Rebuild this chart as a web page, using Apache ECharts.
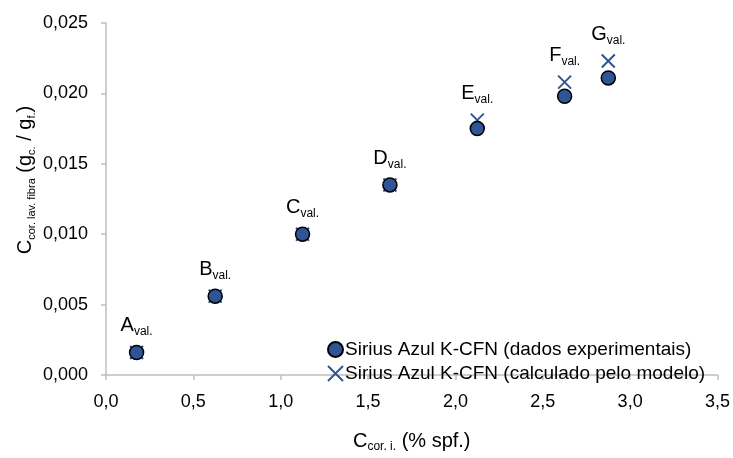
<!DOCTYPE html>
<html>
<head>
<meta charset="utf-8">
<script src="https://cdn.jsdelivr.net/npm/echarts@6/dist/echarts.min.js"></script>
<style>
html,body{margin:0;padding:0;background:#fff;}
#c{width:733px;height:458px;}
</style>
</head>
<body>
<div id="c"></div>
<script>
const xValues = [0.175, 0.625, 1.125, 1.625, 2.125, 2.625, 2.875];
const expValues = [0.0016, 0.0056, 0.0100, 0.0135, 0.0175, 0.0198, 0.0211];
const modelValues = [0.0016, 0.0056, 0.0100, 0.0135, 0.0181, 0.0208, 0.0223];
const pointLabels = ['A', 'B', 'C', 'D', 'E', 'F', 'G'];
const seriesNames = ['Sirius Azul K-CFN (dados experimentais)', 'Sirius Azul K-CFN (calculado pelo modelo)'];
const xTicks = { min: 0, max: 3.5, interval: 0.5 };
const yTicks = { min: 0, max: 0.025, interval: 0.005 };

const FONT = 'Liberation Sans';
const BLUE = '#2F5597';
const AXIS = '#BFBFBF';

const expData = xValues.map((x, i) => [x, expValues[i]]);
const modelData = xValues.map((x, i) => ({ value: [x, modelValues[i]], name: pointLabels[i] }));

const chart = echarts.init(document.getElementById('c'), null, { renderer: 'canvas' });
chart.setOption({
  animation: false,
  textStyle: { fontFamily: FONT },
  grid: { left: 106, right: 14, top: 23, bottom: 73 },
  xAxis: {
    type: 'value', min: xTicks.min, max: xTicks.max, interval: xTicks.interval,
    axisLine: { show: true, lineStyle: { color: AXIS, width: 1.5 } },
    axisTick: { show: true, length: 5, lineStyle: { color: AXIS, width: 1.5 } },
    splitLine: { show: false },
    axisLabel: { fontFamily: FONT, fontSize: 18, color: '#000', margin: 18,
      formatter: v => v.toFixed(1).replace('.', ',') },
    name: '{m|C}{s|cor. i.}{m| (% spf.)}',
    nameLocation: 'middle', nameGap: 54,
    nameTextStyle: { rich: {
      m: { fontFamily: FONT, fontSize: 20, color: '#000', lineHeight: 24 },
      s: { fontFamily: FONT, fontSize: 12, color: '#000', lineHeight: 12, verticalAlign: 'bottom' }
    } }
  },
  yAxis: {
    type: 'value', min: yTicks.min, max: yTicks.max, interval: yTicks.interval,
    axisLine: { show: true, lineStyle: { color: AXIS, width: 1.5 } },
    axisTick: { show: true, length: 5, lineStyle: { color: AXIS, width: 1.5 } },
    splitLine: { show: false },
    axisLabel: { fontFamily: FONT, fontSize: 18, color: '#000', margin: 18,
      formatter: v => v.toFixed(3).replace('.', ',') }
  },
  legend: {
    orient: 'vertical', left: 322, top: 335,
    itemWidth: 15, itemHeight: 15, itemGap: 5,
    textStyle: { fontFamily: FONT, fontSize: 19, color: '#000', padding: [0, 0, 0, -3] },
    data: seriesNames
  },
  graphic: [{
    type: 'text', x: 25, y: 180, rotation: Math.PI / 2,
    style: {
      text: '{m|C}{s|cor. lav. fibra}{m| (g}{s|c.}{m| / g}{s|f.}{m|)}',
      align: 'center', verticalAlign: 'middle',
      rich: {
        m: { fontFamily: FONT, fontSize: 20, fill: '#000', lineHeight: 24 },
        s: { fontFamily: FONT, fontSize: 11, fill: '#000', lineHeight: 11, verticalAlign: 'bottom' }
      }
    }
  }],
  series: [
    {
      name: seriesNames[0], type: 'scatter', z: 3,
      symbol: 'circle', symbolSize: 14,
      itemStyle: { color: BLUE, borderColor: '#000', borderWidth: 1.5, opacity: 1 },
      data: expData
    },
    {
      name: seriesNames[1], type: 'scatter', z: 2,
      symbol: 'path://M0,0L10,10M0,10L10,0', symbolSize: 13,
      itemStyle: { color: 'rgba(0,0,0,0)', borderColor: BLUE, borderWidth: 2, opacity: 1 },
      label: {
        show: true, position: 'top', distance: 7,
        formatter: p => '{m|' + p.name + '}{s|val.}',
        rich: {
          m: { fontFamily: FONT, fontSize: 20, color: '#000', lineHeight: 24 },
          s: { fontFamily: FONT, fontSize: 12, color: '#000', lineHeight: 12, verticalAlign: 'bottom' }
        }
      },
      data: modelData
    }
  ]
});
</script>
</body>
</html>
